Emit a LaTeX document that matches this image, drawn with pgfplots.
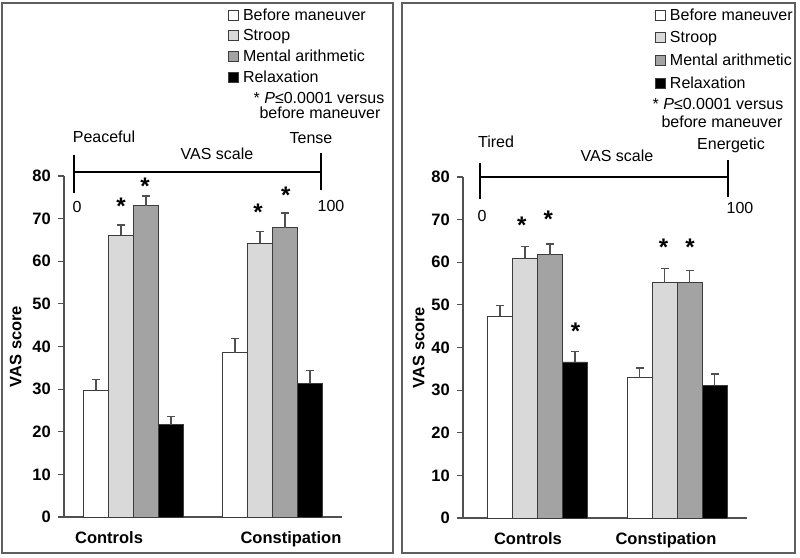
\documentclass[border=0pt]{standalone}
\usepackage{fontspec}
\setmainfont{Liberation Sans}
\usepackage{pgfplots}
\usepackage{pgfplotstable}
\pgfplotsset{compat=1.18}

\definecolor{framegray}{RGB}{95,95,95}
\definecolor{axisgray}{RGB}{80,80,80}
\definecolor{edgegray}{RGB}{60,60,60}
\definecolor{lightbar}{RGB}{217,217,217}
\definecolor{midbar}{RGB}{163,163,163}

% VAS scores, left panel (peaceful - tense)
\pgfplotstableread{
x  b    eb   s    es   m    em   r    er
0  29.8 2.4  66.1 2.4  73.0 2.3  21.6 2.0
1  38.5 3.3  64.2 2.7  67.9 3.4  31.4 3.0
}\tense
% VAS scores, right panel (tired - energetic)
\pgfplotstableread{
x  b    eb   s    es   m    em   r    er
0  47.3 2.6  61.0 2.7  61.8 2.5  36.6 2.4
1  32.9 2.3  55.2 3.3  55.2 2.8  31.2 2.6
}\tired

\pgfplotsset{
  panel/.style={
    scale only axis, height=341pt,
    ymin=0, ymax=80, ytick={0,10,...,80},
    ybar=0pt, bar width=25pt,
    axis x line*=bottom, axis y line*=left,
    axis line style={draw=axisgray, line width=1.4pt},
    xtick style={draw=none},
    ytick style={draw=axisgray, line width=1.2pt},
    tick align=outside, major tick length=6pt,
    yticklabel style={font=\bfseries\fontsize{16.5}{18}\selectfont, inner sep=0pt, xshift=-7pt},
    xticklabel style={font=\bfseries\fontsize{16.5}{18}\selectfont, inner sep=0pt,
      text height=12pt, text depth=4pt, yshift=-8pt},
    /pgf/number format/assume math mode=true,
    ylabel={\bfseries VAS score},
    ylabel style={font=\fontsize{16.5}{18}\selectfont},
    clip=false,
    every axis plot post/.append style={
      legend image code/.code={\draw[##1, draw=edgegray, line width=0.8pt] (0pt,-4pt) rectangle (10pt,6pt);}},
    legend cell align=left,
    legend style={draw=none, fill=none, inner sep=0pt, column sep=4pt,
      font=\fontsize{16}{18}\selectfont,
      nodes={inner sep=0pt, text height=12pt, text depth=4pt}},
    error bars/y dir=plus, error bars/y explicit,
    error bars/error bar style={draw=axisgray, line width=1.2pt},
    error bars/error mark options={rotate=90, mark size=4pt, line width=1.2pt, draw=axisgray},
  },
}
\tikzset{
  bar/.style={draw=edgegray, line width=0.9pt, fill=#1},
  vasstar/.style={font=\bfseries\fontsize{24}{28}\selectfont, anchor=base, inner sep=0pt, yshift=-13.9pt},
}

\begin{document}
\begin{tikzpicture}
\path[use as bounding box] (0pt,0pt) rectangle (800pt,557pt);
\draw[framegray, line width=1.5pt] (2pt,4pt) rectangle (393pt,554pt);
\draw[framegray, line width=1.5pt] (402pt,4pt) rectangle (795pt,554pt);

% left panel
\begin{axis}[panel, at={(64pt,40pt)}, anchor=south west, width=278pt,
  xmin=-0.5, xmax=1.5, xtick={-0.176,1.133}, xticklabels={Controls,Constipation},
  ylabel style={at={(axis description cs:-0.140,0.5)}, anchor=south},
  legend style={at={(axis description cs:0.590,1.493)}, anchor=north west, row sep=4.7pt}]
\addplot[bar=white] table[x=x, y=b, y error=eb] {\tense};
\addplot[bar=lightbar] table[x=x, y=s, y error=es] {\tense};
\addplot[bar=midbar] table[x=x, y=m, y error=em] {\tense};
\addplot[bar=black] table[x=x, y=r, y error=er] {\tense};
\legend{Before maneuver, Stroop, Mental arithmetic, Relaxation}
\node[vasstar] at (axis cs:-0.09,74.2) {*};
\node[vasstar] at (axis cs:0.083,79.0) {*};
\node[vasstar] at (axis cs:0.896,72.8) {*};
\node[vasstar] at (axis cs:1.095,76.8) {*};
\end{axis}

% right panel
\begin{axis}[panel, at={(463pt,39pt)}, anchor=south west, width=284pt,
  xmin=-0.533, xmax=1.5, xtick={-0.068,0.92}, xticklabels={Controls,Constipation},
  ylabel style={at={(axis description cs:-0.123,0.5)}, anchor=south},
  legend style={at={(axis description cs:0.676,1.496)}, anchor=north west, row sep=6.7pt}]
\addplot[bar=white] table[x=x, y=b, y error=eb] {\tired};
\addplot[bar=lightbar] table[x=x, y=s, y error=es] {\tired};
\addplot[bar=midbar] table[x=x, y=m, y error=em] {\tired};
\addplot[bar=black] table[x=x, y=r, y error=er] {\tired};
\legend{Before maneuver, Stroop, Mental arithmetic, Relaxation}
\node[vasstar] at (axis cs:-0.113,70.0) {*};
\node[vasstar] at (axis cs:0.077,71.5) {*};
\node[vasstar] at (axis cs:0.273,45.2) {*};
\node[vasstar] at (axis cs:0.902,64.9) {*};
\node[vasstar] at (axis cs:1.092,64.9) {*};
\end{axis}

% notes and VAS scales
\begin{scope}[every node/.style={font=\fontsize{16}{18}\selectfont, anchor=base, inner sep=0pt}]
\node at (319pt,453pt) {* \textit{P}≤0.0001 versus};
\node at (320pt,438pt) {before maneuver};
\node at (718pt,447pt) {* \textit{P}≤0.0001 versus};
\node at (722pt,429pt) {before maneuver};

\draw[line width=1.8pt] (74pt,385pt) -- (321pt,385pt);
\draw[line width=1.8pt] (74pt,402pt) -- (74pt,364pt);
\draw[line width=1.8pt] (321pt,404pt) -- (321pt,367pt);
\node at (104pt,414.3pt) {Peaceful};
\node at (311pt,413.7pt) {Tense};
\node at (217pt,397.7pt) {VAS scale};
\node at (77pt,344pt) {0};
\node at (331pt,345pt) {100};

\draw[line width=1.8pt] (480pt,380pt) -- (728pt,380pt);
\draw[line width=1.8pt] (480pt,394pt) -- (480pt,358pt);
\draw[line width=1.8pt] (728pt,397pt) -- (728pt,360pt);
\node at (496pt,409pt) {Tired};
\node at (731pt,407pt) {Energetic};
\node at (617pt,395.3pt) {VAS scale};
\node at (482pt,335.3pt) {0};
\node at (740pt,343.7pt) {100};
\end{scope}
\end{tikzpicture}
\end{document}
